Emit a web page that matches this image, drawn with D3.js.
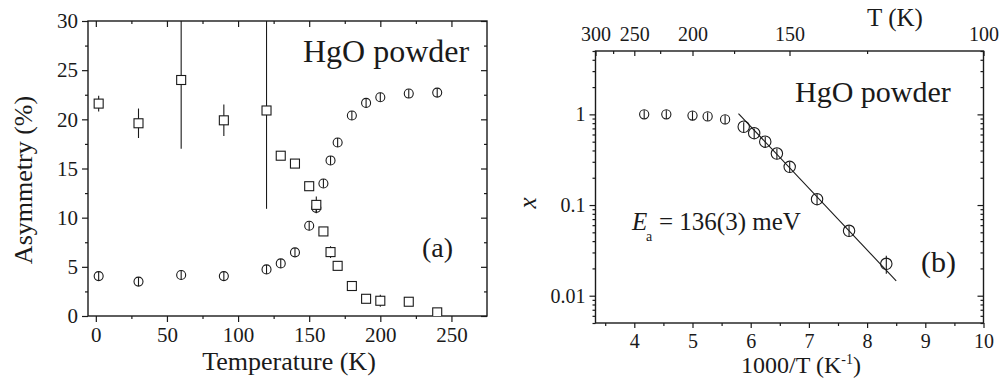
<!DOCTYPE html>
<html>
<head>
<meta charset="utf-8">
<script src="https://cdn.jsdelivr.net/npm/d3@7"></script>
<style>
  body { margin: 0; background: #fff; }
  svg text { font-family: 'Liberation Serif', 'Tinos', 'Times New Roman', 'DejaVu Serif', serif; }
</style>
</head>
<body>
<svg id="chart"></svg>
<script>
// panel (a): asymmetry vs temperature
const tempsA = [2, 30, 60, 90, 120, 130, 140, 150, 155, 160, 165, 170, 180, 190, 200, 220, 240];
const squareAsym = [21.6, 19.6, 24.0, 19.9, 20.9, 16.3, 15.5, 13.2, 11.3, 8.6, 6.5, 5.1, 3.05, 1.75, 1.55, 1.45, 0.37];
const squareErr = [0.8, 1.5, 7.0, 1.6, 10.0, 0.2, 0.2, 0.2, 0.85, 0.2, 0.6, 0.2, 0.2, 0.3, 0.6, 0.2, 0.2];
const circleAsym = [4.06, 3.5, 4.17, 4.06, 4.74, 5.35, 6.47, 9.18, 11.0, 13.48, 15.82, 17.64, 20.39, 21.67, 22.25, 22.62, 22.72];
const circleErr = [0.45, 0.45, 0.45, 0.45, 0.45, 0.45, 0.45, 0.45, 0.45, 0.45, 0.45, 0.45, 0.45, 0.45, 0.45, 0.45, 0.45];

// panel (b): fraction x vs 1000/T
const invT = [4.17, 4.55, 5.0, 5.26, 5.56, 5.88, 6.06, 6.25, 6.45, 6.67, 7.14, 7.69, 8.33];
const fracX = [1.0, 1.0, 0.97, 0.95, 0.88, 0.73, 0.62, 0.50, 0.37, 0.264, 0.116, 0.052, 0.0225];
const fracErr = [0.11, 0.11, 0.11, 0.10, 0.10, 0.09, 0.08, 0.065, 0.05, 0.035, 0.016, 0.007, 0.005];
const fitX = [5.79, 8.5];
const fitY = [1.02, 0.0146];

// tick values
const ticksTA = [0, 50, 100, 150, 200, 250];
const minorTA = [25, 75, 125, 175, 225];
const ticksAsym = [0, 5, 10, 15, 20, 25, 30];
const minorAsym = [2.5, 7.5, 12.5, 17.5, 22.5, 27.5];
const ticksInvT = [4, 5, 6, 7, 8, 9, 10];
const minorInvT = [3.5, 4.5, 5.5, 6.5, 7.5, 8.5, 9.5];
const ticksTopT = [300, 250, 200, 150, 100];
const minorTopT = [275, 225, 175, 125];
const ticksFrac = [0.01, 0.1, 1];
const minorFrac = [0.005, 0.006, 0.007, 0.008, 0.009, 0.02, 0.03, 0.04, 0.05, 0.06, 0.07, 0.08, 0.09,
                   0.2, 0.3, 0.4, 0.5, 0.6, 0.7, 0.8, 0.9, 2, 3, 4, 5];

const ink = "#1a1a1a";
const serif = "'Liberation Serif', 'Tinos', 'Times New Roman', 'DejaVu Serif', serif";
const svg = d3.select('#chart').attr('width', 1000).attr('height', 384);

function axis(g, make, scale, values, size, fmt, pad, fontSize) {
  g.call(make(scale).tickValues(values).tickSize(size).tickSizeOuter(0).tickPadding(pad).tickFormat(fmt));
  g.select('.domain').remove();
  g.attr('font-family', serif);
  g.selectAll('line').attr('stroke', ink).attr('stroke-width', 1.2);
  g.selectAll('text').attr('fill', ink).attr('font-size', fontSize);
}

function label(x, y, size, str) {
  return svg.append('text').attr('x', x).attr('y', y)
    .attr('font-family', serif).attr('font-size', size).attr('fill', ink).text(str);
}

// ---------- panel (a)
const xA = d3.scaleLinear().domain([-5.5, 275]).range([88, 487]);
const yA = d3.scaleLinear().domain([0, 30]).range([316, 21]);
const none = () => '';

svg.append('defs').append('clipPath').attr('id', 'clipA')
  .append('rect').attr('x', 88).attr('y', 21).attr('width', 399).attr('height', 295);

axis(svg.append('g').attr('transform', 'translate(0,316)'), d3.axisBottom, xA, ticksTA, 6, d3.format('d'), 5, 21);
axis(svg.append('g').attr('transform', 'translate(0,316)'), d3.axisBottom, xA, minorTA, 3, none, 0, 21);
axis(svg.append('g').attr('transform', 'translate(0,21)'), d3.axisTop, xA, ticksTA, -6, none, 0, 21);
axis(svg.append('g').attr('transform', 'translate(0,21)'), d3.axisTop, xA, minorTA, -3, none, 0, 21);
axis(svg.append('g').attr('transform', 'translate(88,0)'), d3.axisLeft, yA, ticksAsym, 6, d3.format('d'), 4, 21);
axis(svg.append('g').attr('transform', 'translate(88,0)'), d3.axisLeft, yA, minorAsym, 3, none, 0, 21);
axis(svg.append('g').attr('transform', 'translate(487,0)'), d3.axisRight, yA, ticksAsym, -6, none, 0, 21);
axis(svg.append('g').attr('transform', 'translate(487,0)'), d3.axisRight, yA, minorAsym, -3, none, 0, 21);

svg.append('rect').attr('x', 88).attr('y', 21).attr('width', 399).attr('height', 295)
  .attr('fill', 'none').attr('stroke', ink).attr('stroke-width', 1.4);

const plotA = svg.append('g').attr('clip-path', 'url(#clipA)');
const rowsA = tempsA.map((t, i) => ({ t, s: squareAsym[i], se: squareErr[i], c: circleAsym[i], ce: circleErr[i] }));

plotA.append('g').selectAll('line').data(rowsA).enter().append('line')
  .attr('x1', d => xA(d.t)).attr('x2', d => xA(d.t))
  .attr('y1', d => yA(d.c + d.ce)).attr('y2', d => yA(d.c - d.ce))
  .attr('stroke', ink).attr('stroke-width', 1.1);
plotA.append('g').selectAll('circle').data(rowsA).enter().append('circle')
  .attr('cx', d => xA(d.t)).attr('cy', d => yA(d.c)).attr('r', 4.5)
  .attr('fill', 'none').attr('stroke', ink).attr('stroke-width', 1.1);

plotA.append('g').selectAll('line').data(rowsA).enter().append('line')
  .attr('x1', d => xA(d.t)).attr('x2', d => xA(d.t))
  .attr('y1', d => yA(d.s + d.se)).attr('y2', d => yA(d.s - d.se))
  .attr('stroke', ink).attr('stroke-width', 1.1);
plotA.append('g').selectAll('rect').data(rowsA).enter().append('rect')
  .attr('x', d => xA(d.t) - 4.5).attr('y', d => yA(d.s) - 4.5)
  .attr('width', 9).attr('height', 9)
  .attr('fill', '#fff').attr('stroke', ink).attr('stroke-width', 1.1);

label(303, 62, 32, 'HgO powder');
label(422, 257, 28, '(a)');
label(289, 370, 26, 'Temperature (K)').attr('text-anchor', 'middle');
label(0, 0, 26, 'Asymmetry (%)').attr('text-anchor', 'middle')
  .attr('transform', 'translate(32,180) rotate(-90)');

// ---------- panel (b)
const xB = d3.scaleLinear().domain([1000 / 300, 10]).range([595.5, 983.5]);
const yB = d3.scaleLog().domain([0.005, 5]).range([323, 51]);
const fmtFrac = d => (d >= 1 ? d3.format('d')(d) : String(d));
// top axis is the same scale, labelled in T = 1000 / x
const xTop = t => xB(1000 / t);

axis(svg.append('g').attr('transform', 'translate(0,323)'), d3.axisBottom, xB, ticksInvT, 5, d3.format('d'), 5.5, 20);
axis(svg.append('g').attr('transform', 'translate(0,323)'), d3.axisBottom, xB, minorInvT, 3, none, 0, 20);
axis(svg.append('g').attr('transform', 'translate(0,51)'), d3.axisTop, xB, ticksTopT.map(t => 1000 / t), -5,
  v => Math.round(1000 / v), 10, 20);
axis(svg.append('g').attr('transform', 'translate(0,51)'), d3.axisTop, xB, minorTopT.map(t => 1000 / t), -3, none, 0, 20);

axis(svg.append('g').attr('transform', 'translate(595.5,0)'), d3.axisLeft, yB, ticksFrac, 6, fmtFrac, 4, 20);
axis(svg.append('g').attr('transform', 'translate(595.5,0)'), d3.axisLeft, yB, minorFrac, 3, none, 0, 20);
axis(svg.append('g').attr('transform', 'translate(983.5,0)'), d3.axisRight, yB, ticksFrac, -6, none, 0, 20);
axis(svg.append('g').attr('transform', 'translate(983.5,0)'), d3.axisRight, yB, minorFrac, -3, none, 0, 20);

svg.append('rect').attr('x', 595.5).attr('y', 51).attr('width', 388).attr('height', 272)
  .attr('fill', 'none').attr('stroke', ink).attr('stroke-width', 1.4);

const rowsB = invT.map((v, i) => ({ v, x: fracX[i], e: fracErr[i], i }));
svg.append('path').datum(fitX.map((v, i) => [v, fitY[i]]))
  .attr('d', d3.line().x(d => xB(d[0])).y(d => yB(d[1])))
  .attr('fill', 'none').attr('stroke', ink).attr('stroke-width', 1.1);
svg.append('g').selectAll('line').data(rowsB).enter().append('line')
  .attr('x1', d => xB(d.v)).attr('x2', d => xB(d.v))
  .attr('y1', d => yB(d.x + d.e)).attr('y2', d => yB(d.x - d.e))
  .attr('stroke', ink).attr('stroke-width', 1.1);
svg.append('g').selectAll('circle').data(rowsB).enter().append('circle')
  .attr('cx', d => xB(d.v)).attr('cy', d => yB(d.x)).attr('r', d => (d.i < 5 ? 4.6 : 5.7))
  .attr('fill', 'none').attr('stroke', ink).attr('stroke-width', 1.1);

label(795, 102, 30, 'HgO powder');
label(921, 272, 30, '(b)');
label(632, 230, 25, 'E').attr('font-style', 'italic');
label(646, 241, 14, 'a');
label(659, 230, 25, '= 136(3) meV');

const xLab = label(801, 373, 24, '').attr('text-anchor', 'middle');
xLab.append('tspan').text('1000/T (K');
xLab.append('tspan').attr('dy', -9).attr('font-size', 14).text('-1');
xLab.append('tspan').attr('dy', 9).text(')');
label(895, 26, 25, 'T (K)').attr('text-anchor', 'middle');
label(0, 0, 25, 'x').attr('font-style', 'italic').attr('text-anchor', 'middle')
  .attr('transform', 'translate(536,203) rotate(-90)');
</script>
</body>
</html>
